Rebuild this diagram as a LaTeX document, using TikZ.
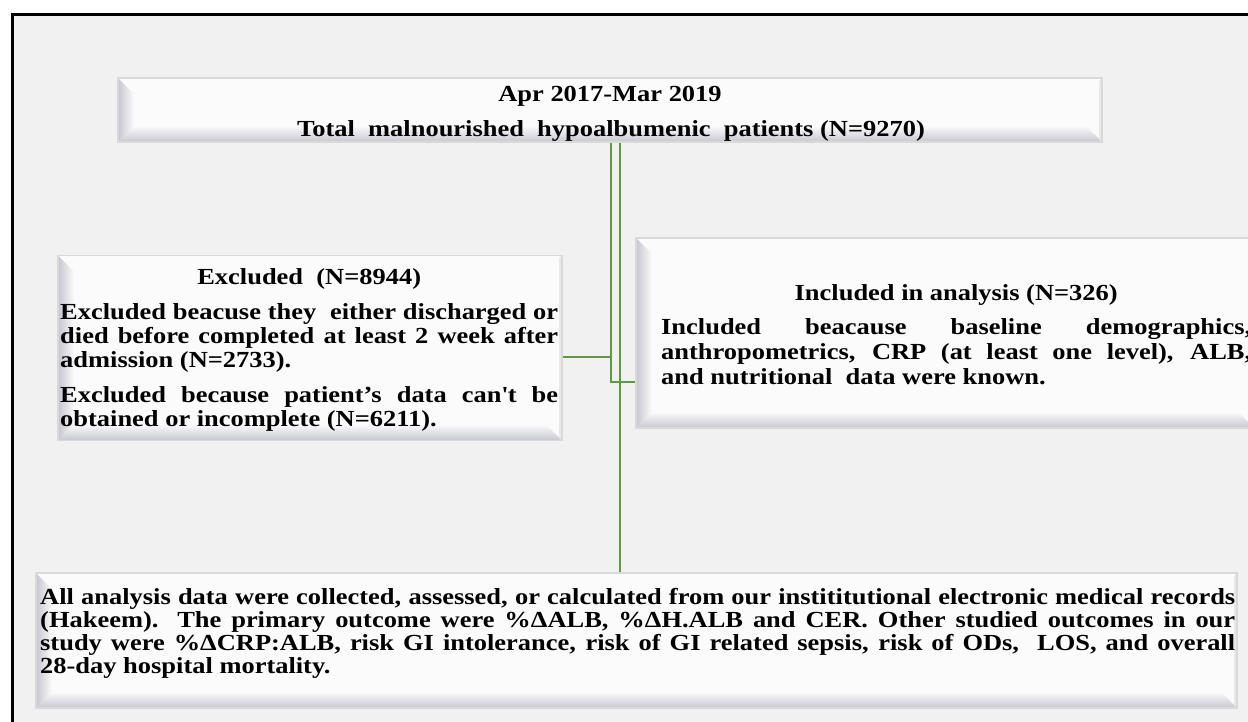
\documentclass[tikz,border=0pt]{standalone}
\usepackage{fontspec}
\newfontfamily\tnr{Liberation Serif}[FakeStretch=1.15]
\definecolor{bgc}{HTML}{F1F1F1}
\definecolor{boxw}{HTML}{FBFBFB}
\definecolor{edgec}{HTML}{D9D9D9}
\definecolor{bevc}{HTML}{C6C6D0}
\definecolor{lgreen}{HTML}{5F9A3C}
\hfuzz=200pt \hbadness=10000
\tikzset{
  bevbox/.style={rectangle, inner sep=0pt, draw=edgec, line width=1.6pt, fill=boxw,
    path picture={
      \path (path picture bounding box.north west) coordinate (q1)
            (path picture bounding box.north east) coordinate (q2)
            (path picture bounding box.south east) coordinate (q3)
            (path picture bounding box.south west) coordinate (q4);
      \shade[left color=bevc, right color=boxw] (q1) -- ([shift={(16pt,-16pt)}]q1) -- ([shift={(16pt,16pt)}]q4) -- (q4) -- cycle;
      \shade[top color=boxw, bottom color=bevc] (q4) -- ([shift={(16pt,16pt)}]q4) -- ([shift={(-16pt,16pt)}]q3) -- (q3) -- cycle;
      \fill[edgec!60] (q2) -- (q3) -- ([shift={(-3pt,3pt)}]q3) -- ([shift={(-3pt,-3pt)}]q2) -- cycle;
    }},
  conn/.style={draw=lgreen, line width=2pt},
  txt/.style={inner sep=0pt, font=\tnr\bfseries\fontsize{23}{24}\selectfont, text=black}
}
\begin{document}
\begin{tikzpicture}[x=1pt,y=-1pt]
\useasboundingbox (0,0) rectangle (1248,721);
\fill[white] (0,0) rectangle (1248,721);
\fill[bgc] (12.5,14.5) rectangle (1260,735);
\draw[line width=3pt] (12.5,735) -- (12.5,14.5) -- (1260,14.5);

% boxes
\node[bevbox, minimum width=984pt, minimum height=64pt] (topbox) at (610,110) {};
\node[bevbox, minimum width=504pt, minimum height=185pt] (exclbox) at (310,348) {};
\node[bevbox, minimum width=618pt, minimum height=190pt] (inclbox) at (945,333) {};
\node[bevbox, minimum width=1201pt, minimum height=135pt] (botbox) at (636.5,640.5) {};

% connectors
\coordinate (ja) at ([xshift=1pt]topbox.south);
\coordinate (jc) at ([xshift=10pt]topbox.south);
\draw[conn, line width=2.6pt] (ja) |- ([yshift=-49pt]inclbox.west);
\draw[conn] ([yshift=-9pt]exclbox.east) -- ([yshift=-9pt]exclbox.east -| ja);
\draw[conn] (jc) -- (jc |- botbox.north);

% texts
\node[txt, anchor=base] (t1) at (610,101) {Apr 2017-Mar 2019};
\node[txt, anchor=base] (t2) at (611,136) {Total\ \ malnourished\ \ hypoalbumenic\ \ patients (N=9270)};

\node[txt, anchor=base west] (exctext) at (60,284) {\begin{minipage}[t]{498pt}\fontsize{23}{24}\selectfont\parskip=11pt
{\centering Excluded\ \ (N=8944)\par}
Excluded beacuse they\ \ either discharged or\linebreak died before completed at least 2 week after\linebreak admission (N=2733).\par
Excluded because patient’s data can\textquotesingle t be\linebreak obtained or incomplete (N=6211).\end{minipage}};

\node[txt, anchor=base west] (inctext) at (661,300) {\begin{minipage}[t]{590pt}\fontsize{23}{25}\selectfont\parskip=9pt
{\centering Included in analysis (N=326)\par}
Included beacause baseline demographics,\linebreak anthropometrics, CRP (at least one level), ALB,\linebreak and nutritional\ \ data were known.\end{minipage}};

\node[txt, anchor=base west] (bottext) at (40,604) {\begin{minipage}[t]{1195pt}\fontsize{23}{23}\selectfont
All analysis data were collected, assessed, or calculated from our instititutional electronic medical records\linebreak (Hakeem). The primary outcome were \%ΔALB, \%ΔH.ALB and CER. Other studied outcomes in our\linebreak study were \%ΔCRP:ALB, risk GI intolerance, risk of GI related sepsis, risk of ODs,\ \ LOS, and overall\linebreak 28-day hospital mortality.\end{minipage}};
\end{tikzpicture}
\end{document}
